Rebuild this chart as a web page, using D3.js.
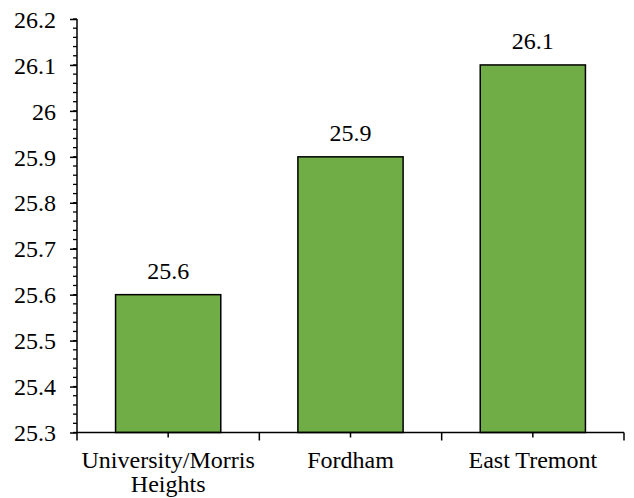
<!DOCTYPE html>
<html>
<head>
<meta charset="utf-8">
<script src="https://cdn.jsdelivr.net/npm/d3@7"></script>
<style>
  html, body { margin: 0; padding: 0; background: #fff; }
  svg { display: block; }
</style>
</head>
<body>
<svg id="chart" width="634" height="498" font-family="Liberation Serif, serif"></svg>
<script>
const categories = [["University/Morris", "Heights"], ["Fordham"], ["East Tremont"]];
const values = [25.6, 25.9, 26.1];
const yTicks = [25.3, 25.4, 25.5, 25.6, 25.7, 25.8, 25.9, 26, 26.1, 26.2];

const FONT = "Liberation Serif, serif";
const FS = 24;
const plotLeft = 77, plotRight = 624, plotTop = 19, plotBottom = 432.5;
const svg = d3.select("#chart");

const keys = categories.map((c, i) => i);
const x = d3.scaleBand().domain(keys).range([plotLeft, plotRight]).paddingInner(0).paddingOuter(0);
const y = d3.scaleLinear().domain([25.3, 26.2]).range([plotBottom, plotTop]);

const barW = x.bandwidth() * 0.577;

// bars
svg.selectAll("rect.bar").data(values).enter().append("rect")
  .attr("class", "bar")
  .attr("x", (d, i) => x(i) + (x.bandwidth() - barW) / 2)
  .attr("y", d => y(d))
  .attr("width", barW)
  .attr("height", d => y(25.3) - y(d))
  .attr("fill", "#70AD47")
  .attr("stroke", "#000")
  .attr("stroke-width", 1.5);

// value labels
svg.selectAll("text.val").data(values).enter().append("text")
  .attr("class", "val")
  .attr("x", (d, i) => x(i) + x.bandwidth() / 2)
  .attr("y", d => y(d) - 16)
  .attr("text-anchor", "middle")
  .attr("font-family", FONT)
  .attr("font-size", FS)
  .text(d => d);

// y axis minor ticks
const minor = d3.range(0, 46).map(i => +(25.3 + i * 0.02).toFixed(2));
svg.append("g").selectAll("line.minor").data(minor).enter().append("line")
  .attr("x1", plotLeft - 4).attr("x2", plotLeft)
  .attr("y1", d => y(d)).attr("y2", d => y(d))
  .attr("stroke", "#000").attr("stroke-width", 1.3);

// y axis
const yAxis = d3.axisLeft(y).tickValues(yTicks).tickSize(7).tickPadding(14)
  .tickFormat(d => d3.format("")(+d.toFixed(1)));
const gy = svg.append("g").attr("transform", `translate(${plotLeft},0)`).call(yAxis);
gy.attr("font-family", FONT).attr("font-size", FS);
gy.select(".domain").attr("stroke", "#000").attr("stroke-width", 1.5).attr("d", `M0,${plotBottom}V${plotTop}`);
gy.selectAll(".tick line").attr("stroke", "#000").attr("stroke-width", 1.5);
gy.selectAll(".tick text").attr("fill", "#000").attr("dy", "0.34em");

// x axis
svg.append("line").attr("x1", plotLeft).attr("x2", plotRight).attr("y1", plotBottom).attr("y2", plotBottom)
  .attr("stroke", "#000").attr("stroke-width", 1.5);
const bounds = keys.map(k => x(k)).concat([plotRight]);
svg.selectAll("line.xmaj").data(bounds).enter().append("line")
  .attr("x1", d => d).attr("x2", d => d).attr("y1", plotBottom).attr("y2", plotBottom + 8)
  .attr("stroke", "#000").attr("stroke-width", 1.5);
svg.selectAll("line.xmin").data(keys).enter().append("line")
  .attr("x1", d => x(d) + x.bandwidth() / 2).attr("x2", d => x(d) + x.bandwidth() / 2)
  .attr("y1", plotBottom).attr("y2", plotBottom + 5)
  .attr("stroke", "#000").attr("stroke-width", 1.5);

// x labels
const xl = svg.selectAll("text.xl").data(categories).enter().append("text")
  .attr("class", "xl")
  .attr("text-anchor", "middle")
  .attr("font-family", FONT)
  .attr("font-size", FS)
  .attr("x", (d, i) => x(i) + x.bandwidth() / 2)
  .attr("y", 468);
xl.selectAll("tspan").data(d => d).enter().append("tspan")
  .attr("x", function () { return d3.select(this.parentNode).attr("x"); })
  .attr("dy", (d, i) => i === 0 ? 0 : 24)
  .text(d => d);
</script>
</body>
</html>
